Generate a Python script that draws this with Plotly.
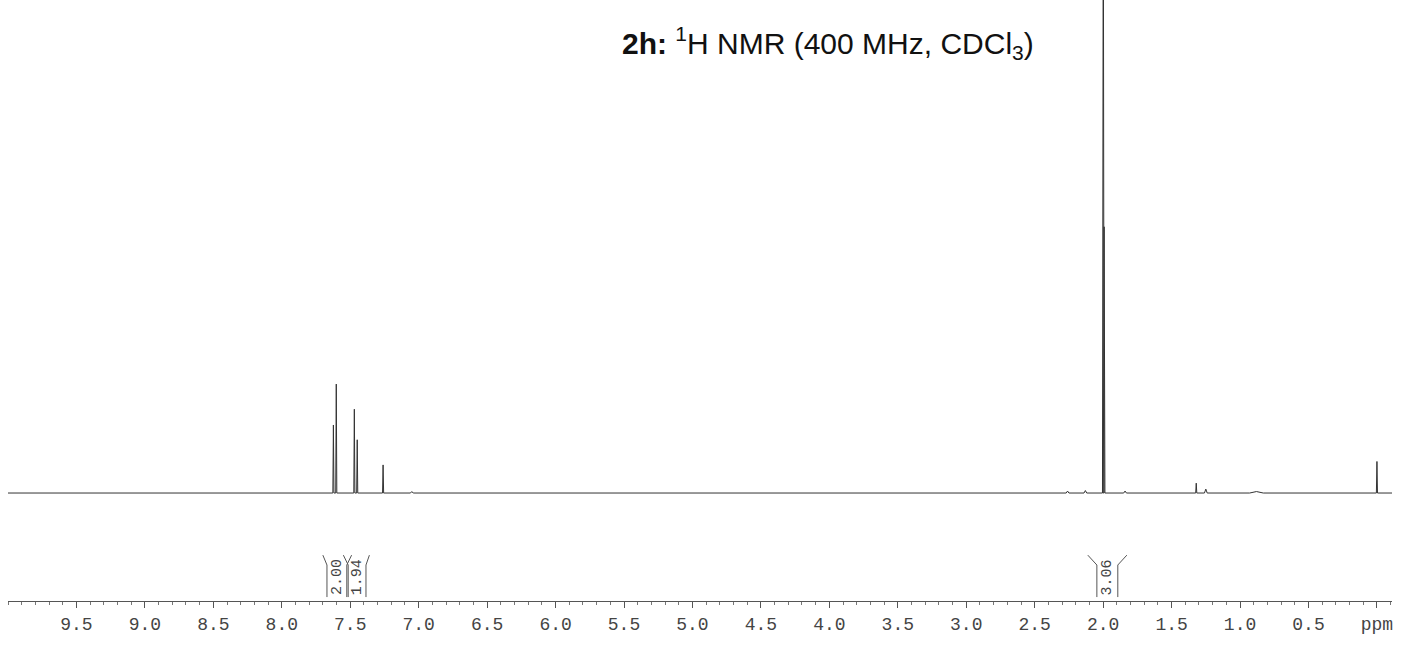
import plotly.graph_objects as go

# ---- data ----
peak_ppm    = [7.623, 7.602, 7.470, 7.449, 7.260, 7.05, 2.26, 2.13, 1.999, 1.993, 1.84, 1.32, 1.25, 0.88, 0.00]
peak_height = [0.138, 0.221, 0.170, 0.108, 0.057, 0.003, 0.004, 0.005, 1.30, 0.54, 0.004, 0.020, 0.008, 0.003, 0.064]
peak_width  = [0.004, 0.004, 0.004, 0.004, 0.004, 0.01, 0.01, 0.01, 0.006, 0.006, 0.01, 0.004, 0.01, 0.05, 0.004]

integ_labels = ["2.00", "1.94", "3.06"]
integ_outer_left  = [7.70, 7.55, 2.112]
integ_inner_left  = [7.67, 7.515, 2.046]
integ_inner_right = [7.525, 7.385, 1.893]
integ_outer_right = [7.49, 7.36, 1.827]

tick_vals = [9.5, 9.0, 8.5, 8.0, 7.5, 7.0, 6.5, 6.0, 5.5, 5.0, 4.5, 4.0, 3.5, 3.0, 2.5, 2.0, 1.5, 1.0, 0.5, 0.0]
tick_text = ["9.5", "9.0", "8.5", "8.0", "7.5", "7.0", "6.5", "6.0", "5.5", "5.0", "4.5", "4.0", "3.5", "3.0", "2.5", "2.0", "1.5", "1.0", "0.5", "ppm"]

x_left, x_right = 10.0, -0.11

# build the stick spectrum from the peak list
xs, ys = [x_left], [0.0]
for p, h, w in sorted(zip(peak_ppm, peak_height, peak_width), key=lambda t: -t[0]):
    xs += [p + w, p, p - w]
    ys += [0.0, h, 0.0]
xs.append(x_right)
ys.append(0.0)

fig = go.Figure()
fig.add_trace(go.Scatter(x=xs, y=ys, mode="lines",
                         line=dict(color="#333333", width=1), hoverinfo="skip"))

y_top, y_bend, y_bot = -0.126, -0.146, -0.211
shapes = []
for lbl, ol, il, ir, orr in zip(integ_labels, integ_outer_left, integ_inner_left,
                                integ_inner_right, integ_outer_right):
    path = (f"M {ol},{y_top} L {il},{y_bend} L {il},{y_bot} "
            f"M {orr},{y_top} L {ir},{y_bend} L {ir},{y_bot}")
    shapes.append(dict(type="path", path=path, xref="x", yref="y",
                       line=dict(color="#555555", width=1)))
    fig.add_annotation(x=(il + ir) / 2, y=y_bot, xref="x", yref="y", text=lbl,
                       textangle=-90, showarrow=False, yanchor="bottom",
                       font=dict(family="Liberation Mono", size=15, color="#444444"))

fig.add_annotation(x=0.5925, y=1 - 43 / 601, xref="paper", yref="paper", yanchor="middle",
                   text="<b>2h:</b> <sup>1</sup>H NMR (400 MHz, CDCl<sub>3</sub>)",
                   showarrow=False, font=dict(family="Liberation Sans", size=30, color="#111111"))

fig.update_layout(
    width=1405, height=656,
    margin=dict(l=8, r=13, t=0, b=55),
    paper_bgcolor="white", plot_bgcolor="white",
    showlegend=False,
    shapes=shapes,
    xaxis=dict(range=[x_left, x_right], showgrid=False, zeroline=False,
               showline=True, linecolor="#555555", linewidth=1,
               tickmode="array", tickvals=tick_vals, ticktext=tick_text,
               ticks="outside", ticklen=6, tickcolor="#555555",
               minor=dict(dtick=0.1, ticks="outside", ticklen=3, tickcolor="#777777"),
               tickfont=dict(family="Liberation Mono", size=18, color="#444444")),
    yaxis=dict(range=[-0.219, 1.0], visible=False, showgrid=False, zeroline=False),
)

fig.write_html("out.html")
